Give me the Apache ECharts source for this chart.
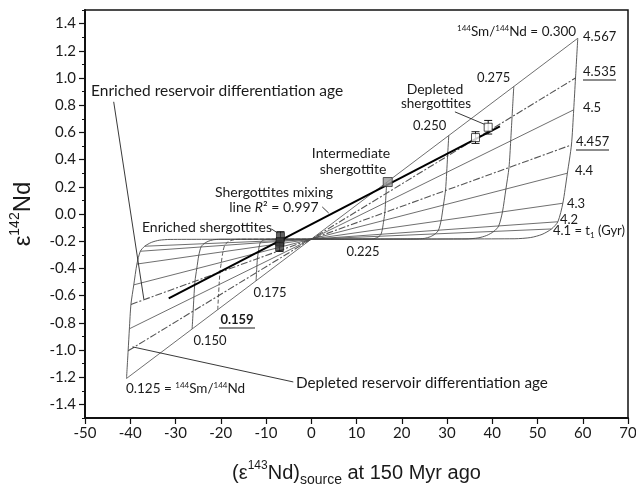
<!DOCTYPE html>
<html><head><meta charset="utf-8">
<script src="https://cdn.jsdelivr.net/npm/echarts@6/dist/echarts.min.js"></script>
<style>html,body{margin:0;padding:0;background:#fff}#c{width:636px;height:486px}</style>
</head><body><div id="c"></div>
<script>
// ---------- data ----------
const t1Ages = ['4.567', '4.535', '4.5', '4.457', '4.4', '4.3', '4.2', '4.1'];
const dashedAges = ['4.535', '4.457'];
const smNdRatios = ['0.300', '0.275', '0.250', '0.225', '0.175', '0.159', '0.150', '0.125'];
// points of each 144Sm/144Nd curve: first 8 at t1Ages, then the young tail to the convergence point
const curve300 = [[58.9,1.292],[58.4,1.000],[58.0,0.766],[57.5,0.508],[56.6,0.300],[55.6,0.079],[54.5,-0.057],[53.1,-0.110],[51.0,-0.150],[48.5,-0.173],[45.0,-0.182],[0,-0.185]];
const curve275 = [[44.76,0.938],[44.38,0.716],[44.08,0.538],[43.70,0.342],[43.02,0.184],[42.26,0.016],[41.42,-0.088],[40.36,-0.128],[38.76,-0.158],[36.86,-0.176],[34.2,-0.183],[0,-0.185]];
const curve250 = [[30.39,0.577],[30.13,0.426],[29.93,0.306],[29.67,0.173],[29.21,0.065],[28.69,-0.049],[28.12,-0.119],[27.40,-0.146],[26.32,-0.167],[25.03,-0.179],[23.22,-0.183],[0,-0.185]];
const curve225 = [[16.67,0.233],[16.53,0.150],[16.41,0.084],[16.27,0.011],[16.02,-0.048],[15.73,-0.110],[15.42,-0.149],[15.03,-0.164],[14.43,-0.175],[13.73,-0.182],[12.74,-0.184],[0,-0.185]];
const curve175 = [[-12.19,-0.491],[-12.09,-0.430],[-12.01,-0.382],[-11.90,-0.328],[-11.72,-0.285],[-11.51,-0.240],[-11.28,-0.211],[-10.99,-0.201],[-10.56,-0.192],[-10.04,-0.188],[-9.32,-0.186],[0,-0.185]];
const curve159 = [[-20.67,-0.703],[-20.50,-0.601],[-20.36,-0.519],[-20.18,-0.428],[-19.87,-0.355],[-19.52,-0.278],[-19.13,-0.230],[-18.64,-0.211],[-17.90,-0.197],[-17.02,-0.189],[-15.80,-0.186],[0,-0.185]];
const curve150 = [[-26.33,-0.845],[-26.10,-0.715],[-25.93,-0.610],[-25.70,-0.495],[-25.30,-0.402],[-24.85,-0.303],[-24.36,-0.242],[-23.74,-0.219],[-22.80,-0.201],[-21.68,-0.190],[-20.12,-0.186],[0,-0.185]];
const curve125 = [[-40.82,-1.209],[-40.47,-1.006],[-40.19,-0.844],[-39.85,-0.665],[-39.22,-0.521],[-38.53,-0.368],[-37.77,-0.274],[-36.80,-0.237],[-35.34,-0.209],[-33.61,-0.193],[-31.19,-0.187],[0,-0.185]];
const curves = [curve300, curve275, curve250, curve225, curve175, curve159, curve150, curve125];
const dashedRatios = ['0.159'];

const mixingLine = [[-31.5,-0.62],[41.7,0.645]];
// [x, y, error]
const enrichedPts = [[-6.8,-0.165,0.035],[-6.9,-0.205,0.03],[-7.0,-0.24,0.035]];
const intermediatePts = [[16.9,0.235,0]];
const depletedPts = [[36.3,0.562,0.043],[39.1,0.638,0.05]];
// leader lines of annotations (data coords)
const leaderLines = [
  [[-43.66,0.825],[-37.0,-0.625]],
  [[-39.5,-0.977],[-3.97,-1.235]],
  [[31.75,0.751],[38.6,0.655]],
  [[2.43,0.052],[3.86,0.007]],
  [[-8.8,-0.11],[-7.4,-0.14]]
];

const xTicks = [-50,-40,-30,-20,-10,0,10,20,30,40,50,60,70];
const yMajor = [-1.4,-1.2,-1.0,-0.8,-0.6,-0.4,-0.2,0,0.2,0.4,0.6,0.8,1.0,1.2,1.4];
const yMinor = [-1.5,-1.3,-1.1,-0.9,-0.7,-0.5,-0.3,-0.1,0.1,0.3,0.5,0.7,0.9,1.1,1.3,1.5];

// ---------- chart ----------
const LAB = 'Lato, "Open Sans", sans-serif';
const TIT = '"Liberation Sans", Arial, sans-serif';
const INK = '#1a1a1a';
const THIN = '#4a4a4a';

const series = [];
t1Ages.forEach((age, i) => {
  const dashed = dashedAges.includes(age);
  series.push({
    type: 'line', name: 't1 ' + age, data: [curve125[i], curve300[i]],
    symbol: 'none', silent: true, z: 2,
    lineStyle: { color: dashed ? '#555' : THIN, width: dashed ? 1.1 : 0.8, type: dashed ? [7, 2, 2, 2] : 'solid' }
  });
});
smNdRatios.forEach((r, i) => {
  const dashed = dashedRatios.includes(r);
  series.push({
    type: 'line', name: 'Sm/Nd ' + r, data: curves[i], smooth: 0.25,
    symbol: 'none', silent: true, z: 2,
    lineStyle: { color: THIN, width: 0.9, type: dashed ? [4, 2] : 'solid' }
  });
});
series.push({
  type: 'line', name: 'mixing', data: mixingLine, symbol: 'none', z: 3,
  lineStyle: { color: '#000', width: 2 }
});
leaderLines.forEach((l, i) => series.push({
  type: 'line', name: 'leader' + i, data: l, symbol: 'none', z: 3,
  lineStyle: { color: '#222', width: 0.9 }
}));
function errRender(params, api) {
  const x = api.value(0), y = api.value(1), e = api.value(2);
  if (!e) return { type: 'group', children: [] };
  const t = api.coord([x, y + e]), b = api.coord([x, y - e]);
  const w = 4, st = { stroke: '#111', lineWidth: 1 };
  return { type: 'group', children: [
    { type: 'line', shape: { x1: t[0], y1: t[1], x2: b[0], y2: b[1] }, style: st },
    { type: 'line', shape: { x1: t[0] - w, y1: t[1], x2: t[0] + w, y2: t[1] }, style: st },
    { type: 'line', shape: { x1: b[0] - w, y1: b[1], x2: b[0] + w, y2: b[1] }, style: st }
  ]};
}
series.push({ type: 'custom', name: 'err', renderItem: errRender, z: 4,
  data: enrichedPts.concat(depletedPts) });
series.push({ type: 'scatter', name: 'Enriched', data: enrichedPts.map(p => [p[0], p[1]]),
  symbol: 'rect', symbolSize: 8, z: 5, itemStyle: { color: '#3c3c3c', borderColor: '#111', borderWidth: 0.8 } });
series.push({ type: 'scatter', name: 'Intermediate', data: intermediatePts.map(p => [p[0], p[1]]),
  symbol: 'rect', symbolSize: 9, z: 5, itemStyle: { color: '#9a9a9a', borderColor: '#333', borderWidth: 1 } });
series.push({ type: 'scatter', name: 'Depleted', data: depletedPts.map(p => [p[0], p[1]]),
  symbol: 'rect', symbolSize: 8, z: 5, itemStyle: { color: '#fff', borderColor: '#222', borderWidth: 1 } });

function txt(text, x, y, opt) {
  opt = opt || {};
  const fs = opt.size || 14;
  const ss = opt.supSize || 8;
  const lh = Math.round(fs * 1.2);
  return { type: 'text', z: 10, style: {
    text: text, x: x, y: y, font: (opt.bold ? 'bold ' : '') + fs + 'px ' + LAB, fill: INK,
    align: opt.align || 'left', verticalAlign: 'middle',
    textAlign: opt.align || 'left', textVerticalAlign: 'middle',
    rich: {
      sup: { fontSize: ss, fontFamily: LAB, lineHeight: ss, verticalAlign: 'top', fill: INK },
      sub: { fontSize: ss, fontFamily: LAB, lineHeight: ss, verticalAlign: 'bottom', fill: INK },
      n: { fontSize: fs, fontFamily: LAB, lineHeight: lh, fill: INK },
      i: { fontSize: fs, fontFamily: LAB, lineHeight: lh, fontStyle: 'italic', fill: INK }
    }
  } };
}
function uline(x1, x2, y) {
  return { type: 'line', z: 10, shape: { x1: x1, y1: y, x2: x2, y2: y }, style: { stroke: INK, lineWidth: 1 } };
}
const C = { align: 'center' };
const N = { size: 13 };
const NC = { size: 13, align: 'center' };

const graphic = [
  txt('Enriched reservoir differentiation age', 91, 91, { size: 15.5 }),
  txt('Depleted reservoir differentiation age', 296, 383, { size: 15.3 }),
  txt('{sup|144}{n|Sm/}{sup|144}{n|Nd = 0.300}', 457, 32, { size: 13.5 }),
  txt('4.567', 583, 37, N), txt('4.535', 583, 72, N), uline(583, 616, 80),
  txt('4.5', 583, 108, N), txt('4.457', 576, 142, N), uline(576, 609, 150),
  txt('4.4', 575, 171, N), txt('4.3', 567, 204, N), txt('4.2', 560, 220, N),
  txt('{n|4.1 = t}{sub|1}{n| (Gyr)}', 553, 231, N),
  txt('0.275', 477, 78, N), txt('0.250', 413, 126, N),
  txt('Depleted', 435, 89, C), txt('shergottites', 436, 104, { size: 13.5, align: 'center' }),
  txt('Intermediate', 351, 153, C), txt('shergottite', 353, 169, C),
  txt('Shergottites mixing', 274, 192, C),
  txt('{n|line }{i|R}{n|² = 0.997}', 274, 207, C),
  txt('Enriched shergottites', 207, 227, C),
  txt('0.225', 363, 252, NC),
  txt('0.175', 270, 293, NC),
  txt('0.159', 237, 320, { size: 13, align: 'center', bold: true }), uline(219, 255, 328),
  txt('0.150', 210, 341, NC),
  txt('{n|0.125 = }{sup|144}{n|Sm/}{sup|144}{n|Nd}', 126, 389, { size: 13.5 })
];

const chart = echarts.init(document.getElementById('c'), null, { renderer: 'canvas' });
chart.setOption({
  animation: false,
  backgroundColor: '#fff',
  grid: { left: 85, right: 8, top: 10, bottom: 68, show: true, borderColor: '#111', borderWidth: 1.5,
    backgroundColor: 'transparent', containLabel: false, outerBoundsMode: 'none' },
  xAxis: {
    type: 'value', min: -50, max: 70, interval: 10,
    axisLine: { show: true, onZero: false, lineStyle: { color: '#111', width: 2 } },
    axisTick: { show: true, length: 6, lineStyle: { color: '#111', width: 1.2 } },
    axisLabel: { fontSize: 15, fontFamily: LAB, color: INK, margin: 8 },
    splitLine: { show: false },
    name: '(ε{sup|143}Nd){sub|source} at 150 Myr ago', nameLocation: 'middle', nameGap: 42,
    nameTextStyle: { fontSize: 20, fontFamily: TIT, color: INK, lineHeight: 27,
      rich: { sup: { fontSize: 12, fontFamily: TIT, lineHeight: 12, verticalAlign: 'top', color: INK },
              sub: { fontSize: 14, fontFamily: TIT, lineHeight: 14, verticalAlign: 'bottom', color: INK } } }
  },
  yAxis: [{
    type: 'value', min: -1.5, max: 1.5, position: 'left',
    axisLine: { show: true, onZero: false, lineStyle: { color: '#111', width: 2 } },
    axisTick: { show: true, length: 6, customValues: yMajor, lineStyle: { color: '#111', width: 1.2 } },
    axisLabel: { customValues: yMajor, formatter: v => v.toFixed(1), fontSize: 15, fontFamily: LAB, color: INK, margin: 9 },
    splitLine: { show: false },
    name: 'ε{sup|142}Nd', nameLocation: 'middle', nameGap: 46, nameRotate: 90,
    nameTextStyle: { fontSize: 24, fontFamily: TIT, color: INK, lineHeight: 30,
      rich: { sup: { fontSize: 14, fontFamily: TIT, lineHeight: 14, verticalAlign: 'top', color: INK } } }
  }, {
    type: 'value', min: -1.5, max: 1.5, position: 'left', offset: 0,
    axisLine: { show: false, onZero: false },
    axisTick: { show: true, length: 3, customValues: yMinor, lineStyle: { color: '#111', width: 1 } },
    axisLabel: { show: false }, splitLine: { show: false }
  }],
  series: series,
  graphic: graphic
});
</script></body></html>
